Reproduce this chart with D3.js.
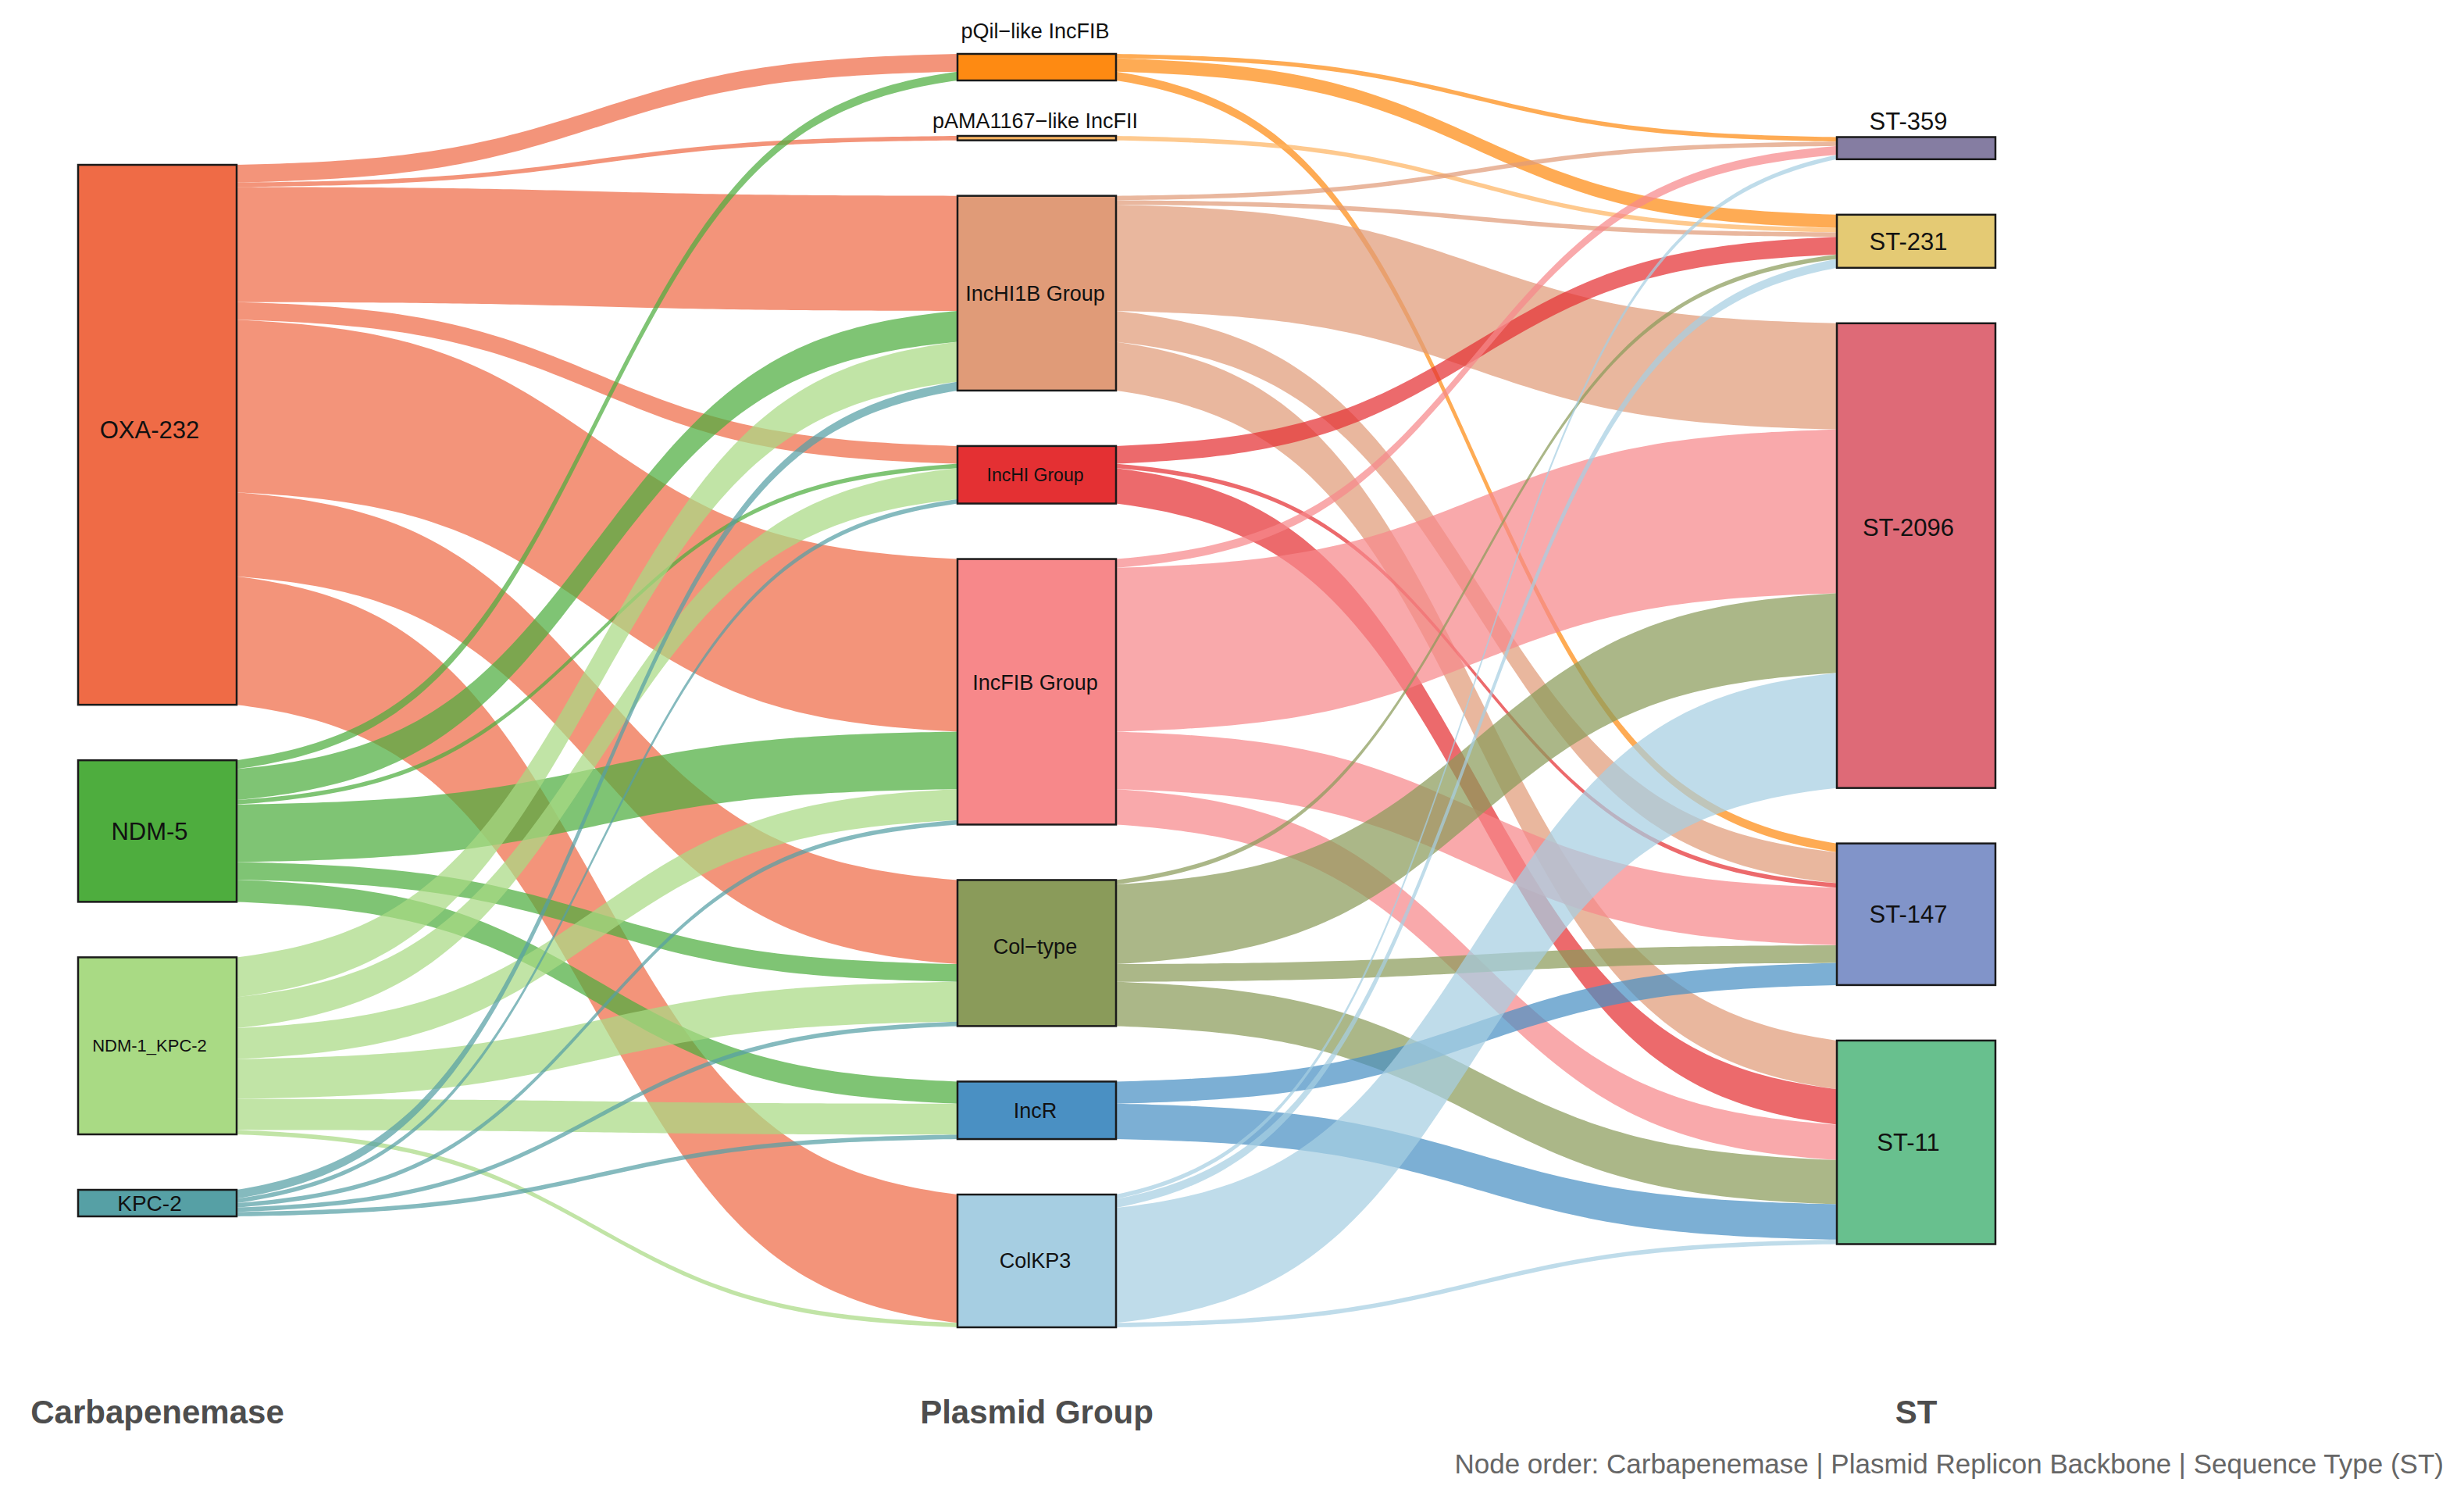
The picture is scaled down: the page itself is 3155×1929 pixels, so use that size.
<!DOCTYPE html>
<html>
<head>
<meta charset="utf-8">
<script src="https://cdn.jsdelivr.net/npm/d3@7"></script>
<style>
  body { margin: 0; background: #fff; }
  svg { display: block; }
  text { font-family: "Liberation Sans", Arial, sans-serif; }
</style>
</head>
<body>
<div id="chart"></div>
<script>
// columns, top to bottom
var carbapenemases = ['OXA-232', 'NDM-5', 'NDM-1_KPC-2', 'KPC-2'];
var plasmidGroups = ['pQil\u2212like IncFIB', 'pAMA1167\u2212like IncFII', 'IncHI1B Group', 'IncHI Group',
                     'IncFIB Group', 'Col\u2212type', 'IncR', 'ColKP3'];
var sequenceTypes = ['ST-359', 'ST-231', 'ST-2096', 'ST-147', 'ST-11'];
var columnTitles = ['Carbapenemase', 'Plasmid Group', 'ST'];
var footnote = 'Node order: Carbapenemase | Plasmid Replicon Backbone | Sequence Type (ST)';

// flows: [source, target, count]
var carbToPlasmid = [
  ['OXA-232', 'pQil\u2212like IncFIB', 4],
  ['OXA-232', 'pAMA1167\u2212like IncFII', 1],
  ['OXA-232', 'IncHI1B Group', 26],
  ['OXA-232', 'IncHI Group', 4],
  ['OXA-232', 'IncFIB Group', 39],
  ['OXA-232', 'Col\u2212type', 19],
  ['OXA-232', 'ColKP3', 29],
  ['NDM-5', 'pQil\u2212like IncFIB', 2],
  ['NDM-5', 'IncHI1B Group', 7],
  ['NDM-5', 'IncHI Group', 1],
  ['NDM-5', 'IncFIB Group', 13],
  ['NDM-5', 'Col\u2212type', 4],
  ['NDM-5', 'IncR', 5],
  ['NDM-1_KPC-2', 'IncHI1B Group', 9],
  ['NDM-1_KPC-2', 'IncHI Group', 7],
  ['NDM-1_KPC-2', 'IncFIB Group', 7],
  ['NDM-1_KPC-2', 'Col\u2212type', 9],
  ['NDM-1_KPC-2', 'IncR', 7],
  ['NDM-1_KPC-2', 'ColKP3', 1],
  ['KPC-2', 'IncHI1B Group', 2],
  ['KPC-2', 'IncHI Group', 1],
  ['KPC-2', 'IncFIB Group', 1],
  ['KPC-2', 'Col\u2212type', 1],
  ['KPC-2', 'IncR', 1]
];

var plasmidToST = [
  ['pQil\u2212like IncFIB', 'ST-359', 1],
  ['pQil\u2212like IncFIB', 'ST-231', 3],
  ['pQil\u2212like IncFIB', 'ST-147', 2],
  ['pAMA1167\u2212like IncFII', 'ST-231', 1],
  ['IncHI1B Group', 'ST-359', 1],
  ['IncHI1B Group', 'ST-231', 1],
  ['IncHI1B Group', 'ST-2096', 24],
  ['IncHI1B Group', 'ST-147', 7],
  ['IncHI1B Group', 'ST-11', 11],
  ['IncHI Group', 'ST-231', 4],
  ['IncHI Group', 'ST-147', 1],
  ['IncHI Group', 'ST-11', 8],
  ['IncFIB Group', 'ST-359', 2],
  ['IncFIB Group', 'ST-2096', 37],
  ['IncFIB Group', 'ST-147', 13],
  ['IncFIB Group', 'ST-11', 8],
  ['Col\u2212type', 'ST-231', 1],
  ['Col\u2212type', 'ST-2096', 18],
  ['Col\u2212type', 'ST-147', 4],
  ['Col\u2212type', 'ST-11', 10],
  ['IncR', 'ST-147', 5],
  ['IncR', 'ST-11', 8],
  ['ColKP3', 'ST-359', 1],
  ['ColKP3', 'ST-231', 2],
  ['ColKP3', 'ST-2096', 26],
  ['ColKP3', 'ST-11', 1]
];

var nodeColors = {
  'OXA-232': '#EF6B46', 'NDM-5': '#4EAD3E', 'NDM-1_KPC-2': '#A9DA84', 'KPC-2': '#56A0A5',
  'pQil\u2212like IncFIB': '#FE8A12', 'pAMA1167\u2212like IncFII': '#FDB462', 'IncHI1B Group': '#E09B78',
  'IncHI Group': '#E43033', 'IncFIB Group': '#F7888A', 'Col\u2212type': '#8A9B5A', 'IncR': '#4A90C3',
  'ColKP3': '#A6CEE2',
  'ST-359': '#857DA2', 'ST-231': '#E4CA74', 'ST-2096': '#DE6A77', 'ST-147': '#8194C9', 'ST-11': '#68C08E'
};
var labelSizeOverride = { 'NDM-1_KPC-2': 22, 'KPC-2': 28, 'IncHI Group': 23 };
// small vertical nudges of labels, as placed in the original
var labelNudge = { 'ST-2096': -36, 'IncFIB Group': -12, 'Col\u2212type': -8, 'OXA-232': -6,
                   'pQil\u2212like IncFIB': -10 };

var width = 3155;
var height = 1929;
var nodeWidth = 203;
var nodeGap = 71;
var centerY = 884;
var smooth = 8;

var svg = d3.select('#chart')
  .append('svg')
  .attr('width', width)
  .attr('height', height);

var columns = [carbapenemases, plasmidGroups, sequenceTypes];
var allLinks = carbToPlasmid.concat(plasmidToST).map(function(d) {
  return { source: d[0], target: d[1], value: d[2] };
});

// build nodes
var nodes = {};
columns.forEach(function(names, ci) {
  names.forEach(function(name, i) {
    nodes[name] = { name: name, col: ci, index: i, out: [], inc: [] };
  });
});
allLinks.forEach(function(l) {
  nodes[l.source].out.push(l);
  nodes[l.target].inc.push(l);
});
Object.keys(nodes).forEach(function(k) {
  var n = nodes[k];
  n.value = Math.max(d3.sum(n.out, function(l) { return l.value; }),
                     d3.sum(n.inc, function(l) { return l.value; }));
});

var total = d3.max(columns, function(names) {
  return d3.sum(names, function(name) { return nodes[name].value; });
});

var x = d3.scalePoint().domain([0, 1, 2]).range([100, 2352]);
var h = d3.scaleLinear().domain([0, total]).range([0, 1133]);

// stack each column, centred vertically
columns.forEach(function(names, ci) {
  var colHeight = d3.sum(names, function(name) { return h(nodes[name].value); }) + nodeGap * (names.length - 1);
  var y = centerY - colHeight / 2;
  names.forEach(function(name) {
    var n = nodes[name];
    n.x0 = x(ci);
    n.x1 = n.x0 + nodeWidth;
    n.y0 = y;
    n.y1 = y + h(n.value);
    y = n.y1 + nodeGap;
  });
});

// link positions: at the source ordered by target, at the target ordered by source
Object.keys(nodes).forEach(function(k) {
  var n = nodes[k];
  var sy = n.y0;
  n.out.sort(function(a, b) { return nodes[a.target].index - nodes[b.target].index; })
    .forEach(function(l) { l.sy0 = sy; sy += h(l.value); l.sy1 = sy; });
  var ty = n.y0;
  n.inc.sort(function(a, b) { return nodes[a.source].index - nodes[b.source].index; })
    .forEach(function(l) { l.ty0 = ty; ty += h(l.value); l.ty1 = ty; });
});

function sig(t) {
  var f = function(v) { return 1 / (1 + Math.exp(-smooth * (v - 0.5))); };
  return (f(t) - f(0)) / (f(1) - f(0));
}

var area = d3.area()
  .x(function(d) { return d.x; })
  .y0(function(d) { return d.top; })
  .y1(function(d) { return d.bot; });

function linkPoints(l) {
  var s = nodes[l.source], t = nodes[l.target];
  var xa = s.x1, xb = t.x0;
  return d3.range(0, 101).map(function(i) {
    var u = i / 100;
    var f = sig(u);
    return {
      x: xa + (xb - xa) * u,
      top: l.sy0 + (l.ty0 - l.sy0) * f,
      bot: l.sy1 + (l.ty1 - l.sy1) * f
    };
  });
}

svg.append('g')
  .selectAll('path')
  .data(allLinks)
  .enter()
  .append('path')
  .attr('d', function(l) { return area(linkPoints(l)); })
  .attr('fill', function(l) { return nodeColors[l.source]; })
  .attr('fill-opacity', 0.72);

var nodeList = Object.keys(nodes).map(function(k) { return nodes[k]; });

svg.append('g')
  .selectAll('rect')
  .data(nodeList)
  .enter()
  .append('rect')
  .attr('x', function(n) { return n.x0; })
  .attr('y', function(n) { return n.y0; })
  .attr('width', nodeWidth)
  .attr('height', function(n) { return n.y1 - n.y0; })
  .attr('fill', function(n) { return nodeColors[n.name]; })
  .attr('stroke', '#1a1a1a')
  .attr('stroke-width', 2.5);

function above(n) { return n.col > 0 && n.y1 - n.y0 < 40; }

svg.append('g')
  .selectAll('text')
  .data(nodeList)
  .enter()
  .append('text')
  .attr('x', function(n) { return (n.x0 + n.x1) / 2 + (n.col === 1 ? -2 : -10); })
  .attr('y', function(n) {
    var y = above(n) ? n.y0 - 10 : (n.y0 + n.y1) / 2;
    return y + (labelNudge[n.name] || 0);
  })
  .attr('dy', function(n) { return above(n) ? '0' : '0.35em'; })
  .attr('text-anchor', 'middle')
  .style('font-size', function(n) {
    return (labelSizeOverride[n.name] || (n.col === 1 ? 27 : 31)) + 'px';
  })
  .attr('fill', '#111')
  .text(function(n) { return n.name; });

// column titles
svg.append('g')
  .selectAll('text')
  .data(columnTitles)
  .enter()
  .append('text')
  .attr('x', function(d, i) { return x(i) + nodeWidth / 2; })
  .attr('y', 1822)
  .attr('text-anchor', 'middle')
  .style('font-size', '42px')
  .style('font-weight', 'bold')
  .attr('fill', '#4d4d4d')
  .text(function(d) { return d; });

svg.append('text')
  .attr('x', 3129)
  .attr('y', 1886)
  .attr('text-anchor', 'end')
  .style('font-size', '35px')
  .attr('fill', '#666')
  .text(footnote);
</script>
</body>
</html>
